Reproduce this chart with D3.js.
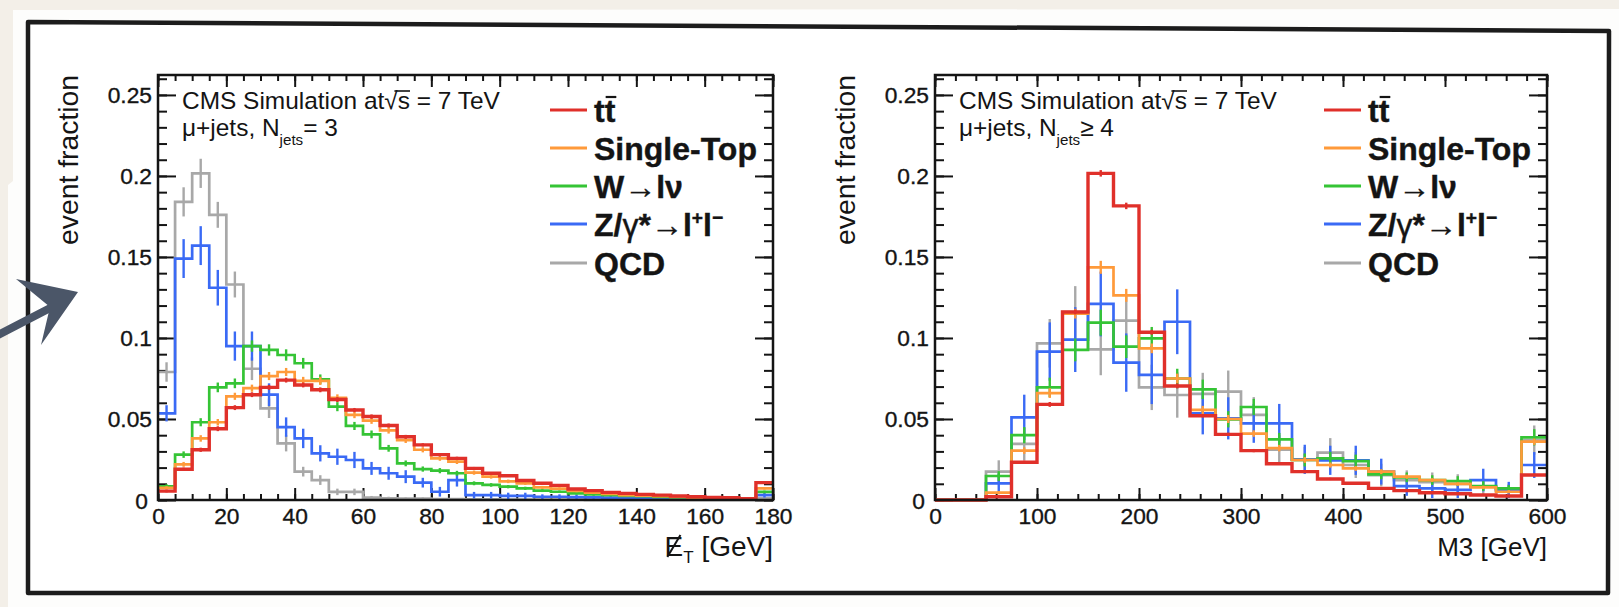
<!DOCTYPE html>
<html><head><meta charset="utf-8">
<script src="https://cdn.jsdelivr.net/npm/d3@7"></script>
<style>
html,body{margin:0;padding:0;background:#f3efe8;}
svg{display:block;}
text{font-family:"Liberation Sans",Arial,Helvetica,sans-serif;}
</style>
</head><body>
<svg id="c" width="1619" height="607"></svg>
<script>
// ---------------- DATA ----------------
// Left panel: missing ET, 5 GeV bins 0..180 (last bin = overflow)
const etEdges = d3.range(0, 185, 5);
const etTicks = [0, 20, 40, 60, 80, 100, 120, 140, 160, 180];
const etTickLabels = ["0", "20", "40", "60", "80", "100", "120", "140", "160", "180"];

const ttET = [0.0055, 0.019, 0.031, 0.044, 0.057, 0.065, 0.0695, 0.074, 0.071, 0.068, 0.062, 0.0555, 0.0515, 0.046, 0.039, 0.034, 0.028, 0.0257, 0.0195, 0.0165, 0.015, 0.012, 0.0103, 0.009, 0.0068, 0.0058, 0.0047, 0.0041, 0.0035, 0.003, 0.0025, 0.002, 0.0016, 0.0014, 0.0008, 0.0107];
const stET = [0.0075, 0.022, 0.038, 0.048, 0.064, 0.069, 0.0765, 0.079, 0.0735, 0.0735, 0.063, 0.0525, 0.049, 0.043, 0.037, 0.031, 0.0257, 0.0237, 0.0169, 0.0144, 0.0115, 0.0103, 0.0078, 0.007, 0.0056, 0.0045, 0.0037, 0.003, 0.0027, 0.0023, 0.0019, 0.0014, 0.0012, 0.001, 0.0006, 0.0072];
const wET = [0.0085, 0.028, 0.048, 0.0695, 0.072, 0.095, 0.0926, 0.0895, 0.0844, 0.0745, 0.0576, 0.0457, 0.0405, 0.0319, 0.0226, 0.0191, 0.0181, 0.0165, 0.0103, 0.0093, 0.0082, 0.0072, 0.0058, 0.0051, 0.0041, 0.0035, 0.003, 0.0025, 0.0023, 0.0019, 0.0016, 0.0012, 0.001, 0.0008, 0.0006, 0.005];
const zET = [0.0535, 0.149, 0.157, 0.131, 0.095, 0.095, 0.065, 0.045, 0.038, 0.0288, 0.0267, 0.0247, 0.0195, 0.0165, 0.0144, 0.0107, 0.0051, 0.0123, 0.003, 0.003, 0.0025, 0.0025, 0.002, 0.002, 0.0018, 0.0016, 0.0015, 0.0014, 0.0012, 0.001, 0.001, 0.0008, 0.0008, 0.0006, 0.0005, 0.003];
const qcdET = [0.079, 0.184, 0.2016, 0.176, 0.133, 0.081, 0.0566, 0.035, 0.0175, 0.0123, 0.005, 0.005, 0.0015, 0.001, 0.0008, 0.0008, 0.0005, 0.0005, 0.0004, 0.0004, 0.0003, 0.0003, 0.0002, 0.0002, 0.0002, 0.0001, 0.0001, 0.0001, 0.0001, 0, 0, 0, 0, 0, 0, 0.001];

const ttETerr = [0.0008, 0.001, 0.0013, 0.0015, 0.0015, 0.0015, 0.0015, 0.0015, 0.0015, 0.0015, 0.0015, 0.0013, 0.0013, 0.0012, 0.0012, 0.001, 0.001, 0.001, 0.0009, 0.0008, 0.0008, 0.0007, 0.0006, 0.0006, 0.0005, 0.0005, 0.0004, 0.0004, 0.0004, 0.0003, 0.0003, 0.0003, 0.0003, 0.0002, 0.0002, 0.0006];
const stETerr = [0.001, 0.0015, 0.002, 0.002, 0.0022, 0.0022, 0.0025, 0.0025, 0.0025, 0.0025, 0.0022, 0.002, 0.002, 0.002, 0.0018, 0.0016, 0.0015, 0.0015, 0.0013, 0.0012, 0.0011, 0.001, 0.0009, 0.0009, 0.0008, 0.0007, 0.0006, 0.0006, 0.0005, 0.0005, 0.0004, 0.0004, 0.0004, 0.0003, 0.0003, 0.0008];
const wETerr = [0.0012, 0.002, 0.0025, 0.003, 0.003, 0.0035, 0.0035, 0.0035, 0.0033, 0.003, 0.0028, 0.0025, 0.0024, 0.0021, 0.0018, 0.0016, 0.0016, 0.0015, 0.0012, 0.0011, 0.001, 0.001, 0.0009, 0.0008, 0.0007, 0.0007, 0.0006, 0.0006, 0.0005, 0.0005, 0.0004, 0.0004, 0.0004, 0.0003, 0.0003, 0.0008];
const zETerr = [0.005, 0.012, 0.012, 0.011, 0.009, 0.009, 0.007, 0.006, 0.006, 0.005, 0.005, 0.005, 0.004, 0.004, 0.004, 0.003, 0.003, 0.004, 0.002, 0.002, 0.002, 0.002, 0.0015, 0.0015, 0.0015, 0.0012, 0.0012, 0.0012, 0.001, 0.001, 0.001, 0.001, 0.001, 0.0008, 0.0008, 0.0015];
const qcdETerr = [0.006, 0.009, 0.009, 0.008, 0.008, 0.007, 0.006, 0.005, 0.003, 0.003, 0.002, 0.002, 0.001, 0.001, 0.0008, 0.0008, 0.0006, 0.0006, 0.0005, 0.0005, 0.0004, 0.0004, 0.0003, 0.0003, 0.0003, 0.0002, 0.0002, 0.0002, 0.0002, 0, 0, 0, 0, 0, 0, 0.001];

// Right panel: M3, 25 GeV bins 0..600 (last bin = overflow)
const m3Edges = d3.range(0, 625, 25);
const m3Ticks = [0, 100, 200, 300, 400, 500, 600];
const m3TickLabels = ["0", "100", "200", "300", "400", "500", "600"];

const ttM3 = [0, 0, 0.002, 0.0233, 0.059, 0.116, 0.2016, 0.1815, 0.1035, 0.0704, 0.052, 0.0405, 0.0305, 0.0224, 0.0175, 0.013, 0.0103, 0.0072, 0.0058, 0.0045, 0.0039, 0.0031, 0.0025, 0.0154];
const stM3 = [0, 0, 0.0045, 0.0305, 0.066, 0.115, 0.1436, 0.1263, 0.0936, 0.075, 0.0556, 0.05, 0.041, 0.032, 0.0247, 0.0216, 0.0195, 0.0175, 0.0144, 0.0123, 0.0099, 0.0078, 0.0051, 0.036];
const wM3 = [0, 0, 0.0148, 0.04, 0.0695, 0.0926, 0.1095, 0.0946, 0.0998, 0.075, 0.0683, 0.0498, 0.0574, 0.0374, 0.0247, 0.0257, 0.024, 0.0158, 0.014, 0.0123, 0.0117, 0.0086, 0.0072, 0.0387];
const zM3 = [0, 0, 0.0103, 0.051, 0.0916, 0.099, 0.121, 0.0848, 0.0772, 0.11, 0.0535, 0.0504, 0.0473, 0.0473, 0.0251, 0.0245, 0.0245, 0.0175, 0.0086, 0.0072, 0.0062, 0.0123, 0.0062, 0.0216];
const qcdM3 = [0, 0, 0.0175, 0.0346, 0.0967, 0.116, 0.093, 0.1107, 0.0695, 0.0648, 0.0655, 0.0669, 0.0525, 0.031, 0.0247, 0.0292, 0.0216, 0.0154, 0.0123, 0.011, 0.0099, 0.0082, 0.0058, 0.037];

const ttM3err = [0, 0, 0.0005, 0.001, 0.0015, 0.0015, 0.002, 0.002, 0.0015, 0.0015, 0.001, 0.001, 0.001, 0.0008, 0.0008, 0.0007, 0.0006, 0.0005, 0.0005, 0.0004, 0.0004, 0.0004, 0.0003, 0.0008];
const stM3err = [0, 0, 0.001, 0.002, 0.003, 0.003, 0.004, 0.004, 0.003, 0.003, 0.0025, 0.0025, 0.002, 0.002, 0.0018, 0.0016, 0.0015, 0.0015, 0.0013, 0.0012, 0.0011, 0.001, 0.001, 0.002];
const wM3err = [0, 0, 0.003, 0.005, 0.006, 0.007, 0.008, 0.007, 0.007, 0.006, 0.006, 0.005, 0.005, 0.004, 0.004, 0.004, 0.004, 0.003, 0.003, 0.003, 0.003, 0.003, 0.002, 0.005];
const zM3err = [0, 0, 0.006, 0.014, 0.018, 0.02, 0.02, 0.018, 0.018, 0.02, 0.013, 0.013, 0.012, 0.012, 0.009, 0.009, 0.009, 0.008, 0.006, 0.006, 0.005, 0.007, 0.005, 0.008];
const qcdM3err = [0, 0, 0.007, 0.01, 0.015, 0.016, 0.016, 0.016, 0.014, 0.014, 0.013, 0.013, 0.011, 0.009, 0.008, 0.009, 0.008, 0.007, 0.006, 0.006, 0.006, 0.005, 0.004, 0.009];

const yTicks = [0, 0.05, 0.1, 0.15, 0.2, 0.25];
const yTickLabels = ["0", "0.05", "0.1", "0.15", "0.2", "0.25"];
const yMinorTicks = d3.range(0, 0.2601, 0.01);

const seriesNames = ["tt", "Single-Top", "W", "Z", "QCD"];
const seriesColors = ["#e0302a", "#ff9a3a", "#35c435", "#3a6af5", "#a8a8a8"];

// ---------------- DRAWING ----------------
const svg = d3.select("#c");
const FONT = '"Liberation Sans",Arial,Helvetica,sans-serif';
const INK = "#141414";

// text width measuring helper -> fits font size to the reference text widths
function measure(str, size, weight) {
  const t = svg.append("text").style("font-family", FONT).style("font-size", size + "px")
    .style("font-weight", weight || "normal").text(str);
  const w = t.node().getComputedTextLength();
  t.remove();
  return w;
}
const tickFS = 24 * 38 / measure("100", 24);
const legFS = 30 * 163 / measure("Single-Top", 30, "bold");
const cmsFS = 24 * 318 / measure("CMS Simulation at\u221As = 7 TeV", 24);
const ytitleFS = 28 * 170 / measure("event fraction", 28);

// background, paper, frame, arrow
svg.append("rect").attr("width", 1619).attr("height", 607).attr("fill", "#f3efe8");
svg.append("path").attr("d", "M13,10 L1619,9 L1619,607 L8,607 L8,185 L13,181 Z").attr("fill", "#fdfdfc");
svg.append("path").attr("d", "M28,22 L1609,31 L1608,593 L28,593 Z")
  .attr("fill", "#ffffff").attr("stroke", "#1c1c1c").attr("stroke-width", 4.5).attr("stroke-linejoin", "round");
svg.append("line").attr("x1", -4).attr("y1", 336).attr("x2", 56).attr("y2", 305)
  .attr("stroke", "#4b5668").attr("stroke-width", 8).attr("stroke-linecap", "round");
svg.append("path").attr("d", "M16,279 L78,292 L41,345 L50,307 Z").attr("fill", "#4b5668");

const yTop = 75, yBot = 500, yMax = 0.2623;

function drawPanel(p) {
  const x = d3.scaleLinear().domain([0, p.xMax]).range([p.x0, p.x1]);
  const y = d3.scaleLinear().domain([0, yMax]).range([yBot, yTop]);
  const g = svg.append("g");

  const styleAxis = (sel) => {
    sel.select(".domain").remove();
    sel.selectAll(".tick line").attr("stroke", INK).attr("stroke-width", 2);
    sel.selectAll(".tick text").attr("fill", INK).attr("stroke", INK).attr("stroke-width", 0.35)
      .style("font-family", FONT).style("font-size", tickFS + "px");
  };

  // minor + major ticks on all four sides (ticks pointing inward)
  g.append("g").attr("transform", `translate(0,${yBot})`)
    .call(d3.axisBottom(x).tickValues(p.xMinor).tickSize(-6).tickSizeOuter(0).tickFormat("")).call(styleAxis);
  g.append("g").attr("transform", `translate(0,${yBot})`)
    .call(d3.axisBottom(x).tickValues(p.xTicks).tickSize(-12).tickSizeOuter(0).tickPadding(8)
      .tickFormat((d, i) => p.xLabels[i])).call(styleAxis);
  g.append("g").attr("transform", `translate(0,${yTop})`)
    .call(d3.axisTop(x).tickValues(p.xMinor).tickSize(-6).tickSizeOuter(0).tickFormat("")).call(styleAxis);
  g.append("g").attr("transform", `translate(0,${yTop})`)
    .call(d3.axisTop(x).tickValues(p.xTicks).tickSize(-12).tickSizeOuter(0).tickFormat("")).call(styleAxis);

  g.append("g").attr("transform", `translate(${p.x0},0)`)
    .call(d3.axisLeft(y).tickValues(yMinorTicks).tickSize(-9).tickSizeOuter(0).tickFormat("")).call(styleAxis);
  const yl = g.append("g").attr("transform", `translate(${p.x0},0)`)
    .call(d3.axisLeft(y).tickValues(yTicks).tickSize(-18).tickSizeOuter(0).tickPadding(6)
      .tickFormat((d, i) => yTickLabels[i])).call(styleAxis);
  yl.selectAll(".tick text").filter(d => d === 0).attr("dy", "0.38em").attr("x", -10);
  g.append("g").attr("transform", `translate(${p.x1},0)`)
    .call(d3.axisRight(y).tickValues(yMinorTicks).tickSize(-9).tickSizeOuter(0).tickFormat("")).call(styleAxis);
  g.append("g").attr("transform", `translate(${p.x1},0)`)
    .call(d3.axisRight(y).tickValues(yTicks).tickSize(-18).tickSizeOuter(0).tickFormat("")).call(styleAxis);

  // histograms
  const clipId = "clip" + p.id;
  svg.append("defs").append("clipPath").attr("id", clipId)
    .append("rect").attr("x", p.x0).attr("y", yTop).attr("width", p.x1 - p.x0).attr("height", yBot - yTop + 2);
  const hg = g.append("g").attr("clip-path", `url(#${clipId})`);
  const line = d3.line().x(d => x(d[0])).y(d => y(d[1])).curve(d3.curveStepAfter);
  const order = [4, 3, 2, 1, 0];
  order.forEach(si => {
    const vals = p.values[si], errs = p.errors[si];
    const pts = vals.map((v, i) => [p.edges[i], v]);
    pts.push([p.edges[vals.length], vals[vals.length - 1]]);
    const col = seriesColors[si];
    const lw = si === 0 ? 3.4 : 2.7;
    hg.selectAll(null).data(vals.map((v, i) => ({ v, e: errs[i], c: (p.edges[i] + p.edges[i + 1]) / 2 })).filter(d => d.e > 0))
      .join("line")
      .attr("x1", d => x(d.c)).attr("x2", d => x(d.c))
      .attr("y1", d => y(Math.max(0, d.v - d.e))).attr("y2", d => y(d.v + d.e))
      .attr("stroke", col).attr("stroke-width", 2.4);
    hg.append("path").attr("d", line(pts)).attr("fill", "none")
      .attr("stroke", col).attr("stroke-width", lw).attr("stroke-linejoin", "miter");
  });

  // frame
  g.append("rect").attr("x", p.x0).attr("y", yTop).attr("width", p.x1 - p.x0).attr("height", yBot - yTop)
    .attr("fill", "none").attr("stroke", INK).attr("stroke-width", 2.5);

  // y-axis title
  g.append("text").attr("transform", `translate(${p.x0 - 80},${yTop})rotate(-90)`)
    .attr("text-anchor", "end").attr("fill", INK).style("font-size", ytitleFS + "px").text("event fraction");

  // CMS text (two lines)
  const cmsStr = "CMS Simulation at\u221As = 7 TeV";
  const t1 = g.append("text").attr("x", p.x0 + 24).attr("y", 109).attr("fill", INK)
    .style("font-size", cmsFS + "px").text(cmsStr);
  const node1 = t1.node();
  const sIdx = "CMS Simulation at\u221As".length - 1;
  const rExt = node1.getExtentOfChar(sIdx - 1), sExt = node1.getExtentOfChar(sIdx);
  g.append("line").attr("x1", rExt.x + rExt.width * 0.75).attr("x2", sExt.x + sExt.width)
    .attr("y1", 91).attr("y2", 91).attr("stroke", INK).attr("stroke-width", 1.6);

  const t2 = g.append("text").attr("x", p.x0 + 24).attr("y", 136).attr("fill", INK).style("font-size", cmsFS + "px");
  t2.append("tspan").text("\u03BC+jets, N");
  t2.append("tspan").attr("dy", 9).style("font-size", (cmsFS * 0.62) + "px").text("jets");
  t2.append("tspan").attr("dy", -9).text(p.njets);

  // legend
  const legY = [110, 148, 186, 224, 263];
  const lx = p.x1 - 223;
  const supFS = legFS * 0.6;
  seriesNames.forEach((nm, i) => {
    g.append("line").attr("x1", lx).attr("x2", lx + 37).attr("y1", legY[i]).attr("y2", legY[i])
      .attr("stroke", seriesColors[i]).attr("stroke-width", 3);
    const t = g.append("text").attr("x", lx + 44).attr("y", legY[i] + 12).attr("fill", INK)
      .attr("stroke", INK).attr("stroke-width", 0.4)
      .style("font-size", legFS + "px").style("font-weight", "bold");
    if (i === 0) {
      t.text("tt");
      const e = t.node().getExtentOfChar(1);
      g.append("line").attr("x1", e.x + 1).attr("x2", e.x + e.width + 1)
        .attr("y1", legY[i] - 13).attr("y2", legY[i] - 13).attr("stroke", INK).attr("stroke-width", 2.2);
    } else if (i === 1) {
      t.text("Single-Top");
    } else if (i === 2) {
      t.text("W\u2192l\u03BD");
    } else if (i === 3) {
      t.append("tspan").text("Z/");
      t.append("tspan").style("font-weight", "normal").text("\u03B3");
      t.append("tspan").text("*\u2192l");
      t.append("tspan").attr("dy", -12).style("font-size", supFS + "px").text("+");
      t.append("tspan").attr("dy", 12).text("l");
      t.append("tspan").attr("dy", -12).style("font-size", supFS + "px").text("\u2212");
    } else {
      t.text("QCD");
    }
  });

  // x-axis title
  const xt = g.append("text").attr("x", p.x1).attr("y", 556).attr("text-anchor", "end")
    .attr("fill", INK).style("font-size", (p.id === "L" ? 28 : 26) + "px");
  if (p.id === "L") {
    xt.append("tspan").text("E");
    xt.append("tspan").attr("dy", 7).style("font-size", "17px").text("T");
    xt.append("tspan").attr("dy", -7).text(" [GeV]");
    const e = xt.node().getExtentOfChar(0);
    g.append("line").attr("x1", e.x + e.width * 0.15).attr("y1", 556 + 1)
      .attr("x2", e.x + e.width * 0.85).attr("y2", 556 - 21).attr("stroke", INK).attr("stroke-width", 2);
  } else {
    xt.text("M3 [GeV]");
  }
}

drawPanel({
  id: "L", x0: 158, x1: 773, xMax: 180, edges: etEdges,
  xTicks: etTicks, xLabels: etTickLabels, xMinor: d3.range(0, 181, 5),
  values: [ttET, stET, wET, zET, qcdET], errors: [ttETerr, stETerr, wETerr, zETerr, qcdETerr],
  njets: "= 3"
});
drawPanel({
  id: "R", x0: 935, x1: 1547, xMax: 600, edges: m3Edges,
  xTicks: m3Ticks, xLabels: m3TickLabels, xMinor: d3.range(0, 601, 20),
  values: [ttM3, stM3, wM3, zM3, qcdM3], errors: [ttM3err, stM3err, wM3err, zM3err, qcdM3err],
  njets: "\u2265 4"
});
</script>
</body></html>
